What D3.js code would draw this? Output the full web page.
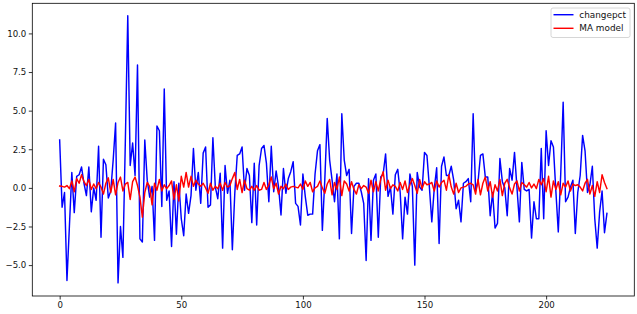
<!DOCTYPE html>
<html><head><meta charset="utf-8">
<script src="https://cdn.jsdelivr.net/npm/d3@7"></script>
<style>html,body{margin:0;padding:0;background:#fff;}svg{display:block;}</style>
</head><body>
<svg id="c" width="637" height="314"></svg>
<script>
const changepct = [
 3.1,-1.25,-0.3,-6.0,-2.5,1.0,-1.6,0.75,0.85,1.35,
 0.3,-0.5,1.35,-1.55,0.0,-0.8,2.7,-3.2,1.85,1.5,
 -0.65,-0.2,1.8,4.2,-6.15,-2.5,-4.5,3.0,11.15,1.45,
 2.9,0.8,7.95,-3.3,-3.5,3.1,0.5,-0.6,0.1,-3.4,
 4.0,3.7,-1.2,6.4,-0.8,-0.2,-3.8,0.4,-3.0,0.3,
 -2.0,-3.1,-0.4,-1.65,-0.5,2.55,-0.15,1.0,-1.0,2.25,
 2.65,-1.25,-1.1,3.25,0.05,-0.7,0.95,-3.9,1.45,-0.35,
 0.5,-4.0,-0.35,2.1,2.2,2.65,-0.15,1.25,0.8,-2.25,
 1.6,-2.4,1.45,2.55,2.75,1.6,-0.9,2.7,-0.25,1.1,
 0.05,-1.75,1.25,-0.35,0.6,1.05,1.7,-1.0,-1.2,-2.4,
 0.9,-0.58,-1.77,-1.7,-1.7,0.9,2.4,2.8,-2.75,0.5,
 4.5,1.8,0.5,-0.9,0.9,-3.3,4.8,1.8,0.8,1.2,
 -2.95,0.1,0.3,0.3,-0.25,-1.0,-4.7,0.6,-3.4,0.5,
 0.9,-3.2,0.7,0.9,2.2,-0.55,0.05,-1.7,0.85,1.2,
 -0.3,-3.3,-0.6,-1.7,0.9,0.1,-5.0,1.0,0.05,-0.15,
 2.3,2.1,0.05,-2.2,-0.05,1.3,-3.6,1.4,2.0,0.8,
 0.8,1.4,0.5,-1.35,-0.8,-2.2,0.3,0.4,0.6,-0.9,
 4.8,-0.15,0.4,2.1,2.2,0.7,0.7,-1.8,-0.3,-2.6,
 -2.3,1.9,0.4,0.0,-1.8,1.25,0.5,2.3,0.05,-2.2,
 1.65,-0.1,-0.2,-0.1,-3.25,-0.9,-2.0,-2.0,2.55,-2.0,
 3.7,1.45,3.05,2.65,-0.2,-2.85,0.9,5.55,-0.9,-0.6,
 0.05,0.5,-2.95,-0.3,0.8,3.4,2.4,-0.3,0.2,1.4,
 -2.0,-3.9,-1.55,-0.2,-2.9,-1.65
];
const maModel = [
 0.12,0.10,0.05,0.15,-0.05,0.45,-0.25,0.60,0.30,0.85,
 0.40,0.15,0.55,-0.10,0.25,-0.05,0.35,0.05,-0.40,0.30,
 0.65,-0.30,0.55,-0.45,0.35,0.70,-0.20,0.25,0.35,-0.75,
 0.40,0.70,0.15,-0.60,-1.90,-0.30,0.35,0.10,-1.10,0.30,
 -0.15,0.55,-0.20,0.20,-0.05,0.15,0.45,-0.75,0.20,-0.85,
 0.75,0.05,1.00,0.05,0.75,0.10,0.50,0.25,0.10,0.30,
 0.00,-0.35,0.30,-0.15,0.10,-0.05,0.30,-0.15,0.35,0.05,
 0.15,0.60,1.00,-0.10,0.55,-0.30,0.50,-0.05,-0.15,0.10,
 -0.15,0.15,-0.15,-0.10,0.35,-0.10,0.20,0.70,-0.05,0.30,
 -0.40,0.10,-0.05,0.25,-0.10,0.05,0.10,0.05,0.00,0.25,
 -0.10,0.45,0.10,0.35,-0.25,0.00,0.10,0.45,0.00,-0.35,
 0.25,0.55,-0.45,0.35,-0.10,0.70,-0.50,0.45,0.25,-0.20,
 0.40,-0.10,-0.40,0.20,-0.05,0.15,0.05,-0.35,0.50,-0.25,
 0.40,-0.20,0.55,1.05,-0.15,0.50,-0.05,0.20,0.10,-0.20,
 0.35,-0.10,0.45,-0.30,0.20,0.60,0.15,-0.35,0.55,-0.05,
 0.40,0.20,0.25,0.35,-0.20,0.45,0.05,0.35,0.50,-0.15,
 0.85,0.05,-0.40,0.30,-0.30,0.00,0.05,0.10,0.25,0.30,
 0.20,-0.40,0.55,-0.45,0.30,0.70,-0.20,0.40,-0.60,0.20,
 -0.20,0.55,-0.50,0.30,0.55,0.00,-0.40,0.25,0.45,-0.20,
 0.35,0.20,0.05,0.35,0.00,0.25,-0.05,0.55,0.20,0.60,
 -0.25,0.75,-0.60,0.45,-0.10,0.40,-0.45,0.30,0.05,0.45,
 -0.20,0.25,0.15,0.20,0.05,-0.20,0.30,0.55,-0.40,0.15,
 -0.55,0.40,-0.30,0.85,0.35,-0.05
];
const xTicks = [0, 50, 100, 150, 200];
const yTicks = [-5.0, -2.5, 0.0, 2.5, 5.0, 7.5, 10.0];
const seriesNames = ["changepct", "MA model"];
const seriesColors = ["#0000ff", "#ff0000"];

const svg = d3.select("#c");
const L = 32.3, R = 634.3, T = 3.3, B = 296;
const n = changepct.length;
const x = d3.scaleLinear().domain([-(n-1)*0.05, (n-1)*1.05]).range([L, R]);
const y = d3.scaleLinear().domain([-7.0, 11.95]).range([B, T]);

const font = "'DejaVu Sans', sans-serif";
const fmt = v => (v < 0 ? "\u2212" : "") + Math.abs(v).toFixed(1);

const xAxis = d3.axisBottom(x).tickValues(xTicks).tickSize(3.5).tickPadding(2.5).tickFormat(d3.format("d"));
const yAxis = d3.axisLeft(y).tickValues(yTicks).tickSize(3.5).tickPadding(2.5).tickFormat(fmt);
const gx = svg.append("g").attr("transform", `translate(0,${B})`).call(xAxis);
const gy = svg.append("g").attr("transform", `translate(${L},0)`).call(yAxis);
[gx, gy].forEach(g => {
  g.select(".domain").remove();
  g.selectAll("line").attr("stroke", "#000").attr("stroke-width", 0.8);
  g.selectAll("text").attr("font-family", font).attr("font-size", "8.6px").attr("fill", "#111");
});

const line = d3.line().x((d, i) => x(i)).y(d => y(d));
svg.append("clipPath").attr("id", "clp").append("rect")
  .attr("x", L).attr("y", T).attr("width", R - L).attr("height", B - T);
const plot = svg.append("g").attr("clip-path", "url(#clp)");
[changepct, maModel].forEach((s, k) => {
  plot.append("path").datum(s).attr("d", line)
    .attr("fill", "none").attr("stroke", seriesColors[k])
    .attr("stroke-width", 1.45).attr("stroke-linejoin", "round").attr("stroke-linecap", "square");
});

svg.append("rect").attr("x", L).attr("y", T).attr("width", R - L).attr("height", B - T)
  .attr("fill", "none").attr("stroke", "#000").attr("stroke-width", 0.8);

const lg = svg.append("g");
lg.append("rect").attr("x", 551).attr("y", 8).attr("width", 79).attr("height", 29.5).attr("rx", 2)
  .attr("fill", "#fff").attr("fill-opacity", 0.8).attr("stroke", "#ccc").attr("stroke-width", 0.8);
seriesNames.forEach((nm, k) => {
  const cy = 14.7 + k * 13.6;
  lg.append("line").attr("x1", 553.5).attr("x2", 573.5).attr("y1", cy).attr("y2", cy)
    .attr("stroke", seriesColors[k]).attr("stroke-width", 1.45);
  lg.append("text").attr("x", 579.3).attr("y", cy).attr("dy", "0.35em")
    .attr("font-family", font).attr("font-size", "8.9px").attr("fill", "#111").text(nm);
});
</script>
</body></html>
